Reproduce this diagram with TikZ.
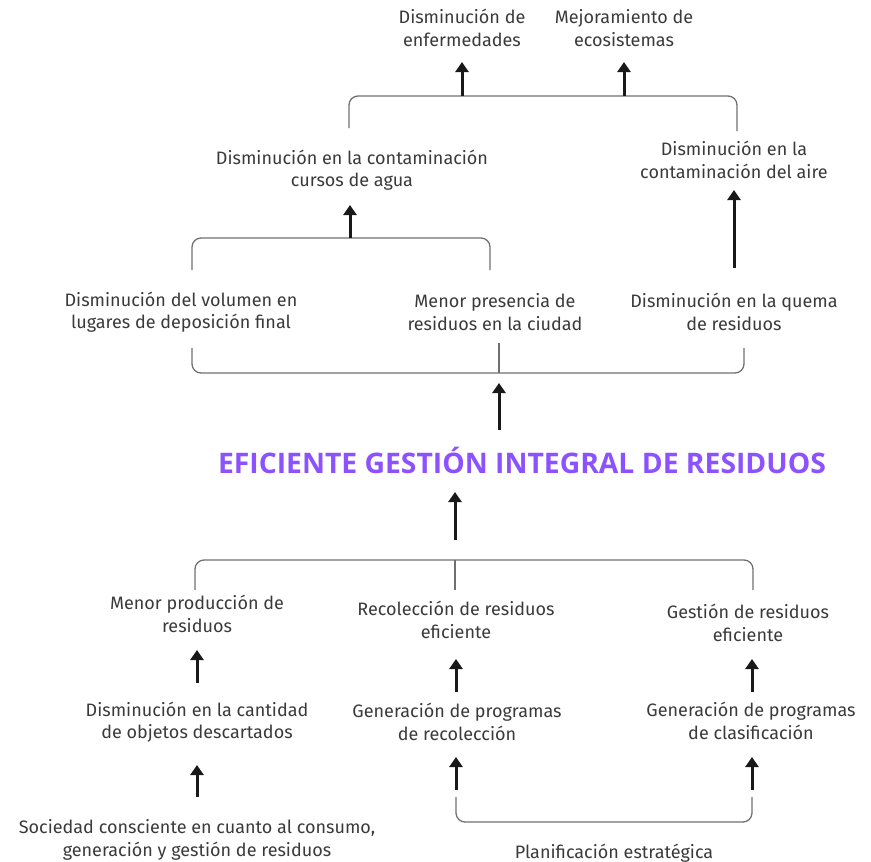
\documentclass[tikz,border=0pt]{standalone}
\usepackage{fontspec}
\setmainfont{Fira Sans}
\newfontfamily\titlefont{Open Sans}
\usetikzlibrary{arrows.meta}
\definecolor{txtgray}{HTML}{3A3A3A}
\definecolor{bracegray}{HTML}{707070}
\definecolor{titlepurple}{HTML}{8C52FF}

\begin{document}
\begin{tikzpicture}[x=1pt,y=-1pt,
  every node/.style={align=center,inner sep=0pt,text=txtgray,font=\fontsize{18}{22.5}\selectfont},
  brace/.style={draw=bracegray,line width=1.3pt,rounded corners=9pt},
  uparrow/.style={draw=black!90,line width=3pt,-{Triangle[length=10pt,width=13pt]}},
  titletext/.style={text=titlepurple,font=\titlefont\fontsize{28.3}{32}\selectfont\bfseries}]
  \useasboundingbox (0,0) rectangle (871,862);

  % effects
  \node (enf) at (462,28) {Disminución de\\enfermedades};
  \node (eco) at (624,28) {Mejoramiento de\\ecosistemas};
  \node (agua) at (352,170) {Disminución en la contaminación\\cursos de agua};
  \node (aire) at (734,160) {Disminución en la\\contaminación del aire};
  \node (vol) at (181,312) {Disminución del volumen en\\lugares de deposición final};
  \node (pres) at (495,312) {Menor presencia de\\residuos en la ciudad};
  \node (quema) at (734,312) {Disminución en la quema\\de residuos};

  % central problem
  \node[titletext] (title) at (522,460) {EFICIENTE GESTIÓN INTEGRAL DE RESIDUOS};

  % causes
  \node (mprod) at (197,614) {Menor producción de\\residuos};
  \node (recol) at (456,620) {Recolección de residuos\\eficiente};
  \node (gest) at (748,623) {Gestión de residuos\\eficiente};
  \node (dcant) at (197,722) {Disminución en la cantidad\\de objetos descartados};
  \node (progrec) at (457,722) {Generación de programas\\de recolección};
  \node (progcla) at (751,721) {Generación de programas\\de clasificación};
  \node (soc) at (197,840) {Sociedad consciente en cuanto al consumo,\\generación y gestión de residuos};
  \node (plan) at (614,853) {Planificación estratégica};

  % brackets
  \coordinate (b1l) at (349,128);
  \coordinate (b1r) at (737,131);
  \draw[brace] (b1l) |- (b1r |- 0,96) -- (b1r);
  \coordinate (b1a) at (462,96);
  \coordinate (b1b) at (624,96);
  \coordinate (b2) at (350,238);
  \draw[brace] (192,270) |- (490,238) -- (490,270);
  \coordinate (b3) at (499,373);
  \draw[brace] (192,348) |- (744,373) -- (744,348);
  \draw[brace] (499,343) -- (b3);
  \coordinate (b4) at (455,560);
  \draw[brace] (195,590) |- (753,560) -- (753,590);
  \draw[brace] (b4) -- (455,590);
  \coordinate (pl) at (456,797);
  \coordinate (pr) at (752,797);
  \draw[brace] (pl) |- (pr |- 0,822) -- (pr);

  % arrows
  \draw[uparrow,shorten >=34pt] (b1a) -- (b1a |- enf.center);
  \draw[uparrow,shorten >=34pt] (b1b) -- (b1b |- eco.center);
  \draw[uparrow,shorten >=35pt] (b2) -- (b2 |- agua.center);
  \draw[uparrow,shorten <=44pt,shorten >=30pt] (quema.center) -- (aire.center);
  \draw[uparrow,shorten <=30pt,shorten >=10pt] (title.center -| b3) -- (b3);
  \draw[uparrow,shorten <=20pt,shorten >=32pt] (b4) -- (b4 |- title.center);
  \draw[uparrow,shorten <=39pt,shorten >=36pt] (dcant.center) -- (mprod.center);
  \draw[uparrow,shorten <=30pt,shorten >=39pt] (pl |- progrec.center) -- (pl |- recol.center);
  \draw[uparrow,shorten <=29pt,shorten >=36pt] (pr |- progcla.center) -- (pr |- gest.center);
  \draw[uparrow,shorten <=43pt,shorten >=43pt] (soc.center) -- (dcant.center);
  \draw[uparrow,shorten <=7pt,shorten >=35pt] (pl) -- (pl |- progrec.center);
  \draw[uparrow,shorten <=7pt,shorten >=36pt] (pr) -- (pr |- progcla.center);
\end{tikzpicture}
\end{document}
